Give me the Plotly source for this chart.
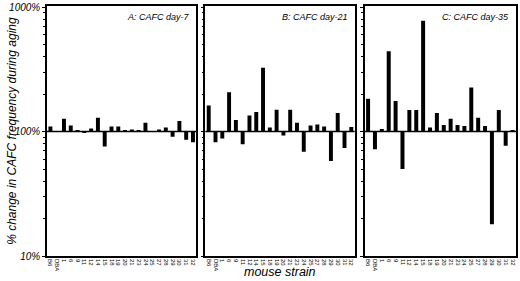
import plotly.graph_objects as go

strains = ["B6", "DBA", "1", "6", "9", "11", "12", "14", "15", "18", "19",
           "20", "21", "23", "24", "25", "27", "28", "29", "30", "31", "32"]
day7 = [110, 100, 127, 112, 102, 98, 106, 129, 76, 110, 110,
        102, 104, 103, 118, 101, 104, 108, 91, 122, 86, 82]
day21 = [162, 82, 88, 207, 124, 79, 135, 144, 326, 108, 150,
         93, 150, 118, 69, 112, 114, 110, 58, 141, 74, 109]
day35 = [184, 72, 105, 442, 176, 50, 149, 149, 780, 108, 141,
         113, 127, 113, 111, 226, 129, 111, 18, 149, 77, 102]
panel_titles = ["A: CAFC day-7", "B: CAFC day-21", "C: CAFC day-35"]
baseline = 100

FONT = "Liberation Sans, Arial, sans-serif"
W, H = 520, 281
ml, mr, mt, mb = 47, 2, 3, 25
pw = W - ml - mr
edges = [(47, 197), (206, 356), (366, 518)]
domains = [[(a - ml) / pw, (b - ml) / pw] for a, b in edges]

fig = go.Figure()
series = [day7, day21, day35]
minor_vals = [m * d for d in (10, 100) for m in range(2, 10)]

for i, vals in enumerate(series):
    xa = "x" if i == 0 else f"x{i+1}"
    ya = "y" if i == 0 else f"y{i+1}"
    fig.add_trace(go.Bar(
        x=strains, y=[v - baseline for v in vals], base=baseline,
        marker=dict(color="black", line=dict(width=0)),
        xaxis=xa, yaxis=ya, showlegend=False, width=0.58,
        hoverinfo="skip",
    ))
    xkey = "xaxis" if i == 0 else f"xaxis{i+1}"
    ykey = "yaxis" if i == 0 else f"yaxis{i+1}"
    fig.layout[xkey] = dict(
        domain=domains[i], anchor=ya, type="category",
        range=[-0.5, len(strains) - 0.5],
        showline=True, linecolor="black", linewidth=1.5, mirror=True,
        ticks="", tickangle=90, tickmode="array", tickvals=strains,
        ticktext=strains,
        tickfont=dict(family=FONT, size=6, color="black"),
        showgrid=False, zeroline=False,
    )
    fig.layout[ykey] = dict(
        domain=[0, 1], anchor=xa, type="log", range=[1, 3.01],
        showline=True, linecolor="black", linewidth=1.5, mirror=True,
        ticks="outside", ticklen=3, tickwidth=1, tickcolor="black",
        tickvals=[10, 100, 1000], ticktext=["10%", "100%", "1000%"],
        showticklabels=(i == 0), ticklabeloverflow="allow",
        tickfont=dict(family=FONT, size=10, color="black", style="italic"),
        minor=dict(tickvals=minor_vals, ticks="outside", ticklen=2,
                   tickcolor="black", tickwidth=1, showgrid=False),
        showgrid=False, zeroline=False,
    )
    fig.add_shape(type="line", xref=f"{xa} domain", yref=ya,
                  x0=0, x1=1, y0=baseline, y1=baseline,
                  line=dict(color="black", width=1.5))
    fig.add_annotation(text=panel_titles[i], xref=f"{xa} domain",
                       yref="paper", x=0.97, y=0.985, xanchor="right",
                       yanchor="top", showarrow=False,
                       font=dict(family=FONT, size=9, color="black",
                                 style="italic"))

fig.add_annotation(text="% change in CAFC frequency during aging",
                   xref="paper", yref="paper", x=-0.075, y=0.5,
                   textangle=-90, showarrow=False, xanchor="center",
                   yanchor="middle",
                   font=dict(family=FONT, size=12, color="black",
                             style="italic"))
fig.add_annotation(text="mouse strain", xref="x2 domain", yref="paper",
                   x=0.5, y=-0.026, yanchor="top", showarrow=False,
                   font=dict(family=FONT, size=12.5, color="black",
                             style="italic"))

fig.update_layout(
    width=W, height=H, margin=dict(l=ml, r=mr, t=mt, b=mb),
    paper_bgcolor="white", plot_bgcolor="white", bargap=0.4,
    hovermode=False,
)
fig.write_html("out.html", config={"displayModeBar": False},
               post_script="document.body.style.margin='0';")
